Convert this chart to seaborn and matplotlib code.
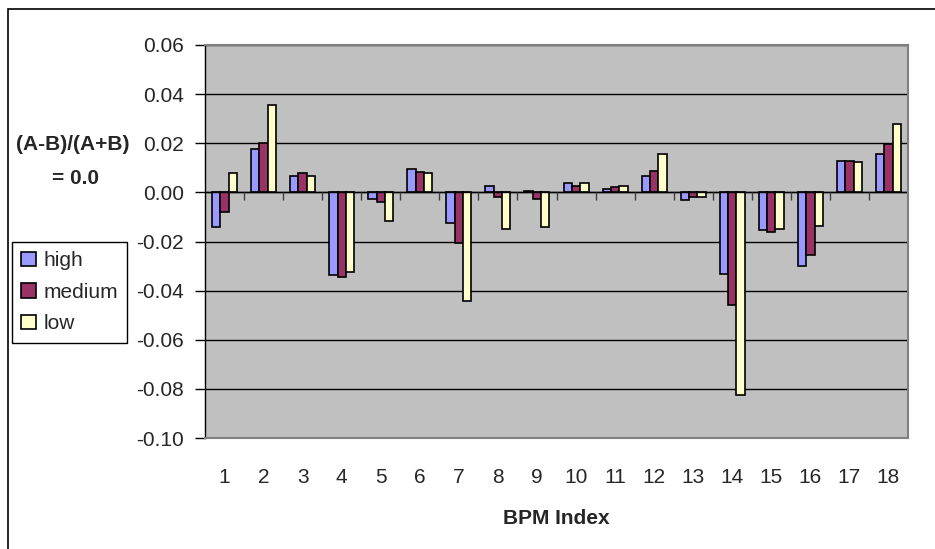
import seaborn as sns
import pandas as pd
import matplotlib.pyplot as plt
from matplotlib.patches import Rectangle

sns.set_theme(style="white")
plt.rcParams['font.family'] = ['Liberation Sans', 'DejaVu Sans']

bpm = [str(i) for i in range(1, 19)]
high = [-0.0143, 0.0176, 0.0065, -0.0338, -0.0027, 0.0097, -0.0123, 0.0027, 0.0007,
        0.0039, 0.0014, 0.0065, -0.0032, -0.0331, -0.0155, -0.0299, 0.0128, 0.0155]
medium = [-0.0078, 0.0201, 0.0078, -0.0345, -0.0039, 0.0084, -0.0208, -0.0019, -0.0027,
          0.0026, 0.0020, 0.0085, -0.0019, -0.0460, -0.0162, -0.0253, 0.0128, 0.0195]
low = [0.0078, 0.0357, 0.0066, -0.0326, -0.0118, 0.0078, -0.0442, -0.0150, -0.0143,
       0.0039, 0.0027, 0.0157, -0.0019, -0.0824, -0.0149, -0.0136, 0.0123, 0.0280]
series = ['high', 'medium', 'low']
colors = ['#9999FF', '#993366', '#FFFFCC']

df = pd.DataFrame({
    'BPM Index': bpm * 3,
    'value': high + medium + low,
    'series': [s for s in series for _ in bpm],
})

fs = 15
fig = plt.figure(figsize=(9.35, 5.49), dpi=100)
ax = fig.add_axes([205 / 935, 1 - 438 / 549, 703 / 935, 393 / 549])
ax.set_facecolor('#C0C0C0')

sns.barplot(data=df, x='BPM Index', y='value', hue='series', hue_order=series,
            palette=colors, width=0.64, edgecolor='black', linewidth=1.2,
            saturation=1, ax=ax)

ax.set_ylim(-0.10, 0.06)
ax.set_xlim(-0.5, 17.5)
ax.set_yticks([0.06, 0.04, 0.02, 0.00, -0.02, -0.04, -0.06, -0.08, -0.10])
ax.set_yticklabels(['%.2f' % v for v in ax.get_yticks()])
ax.yaxis.grid(True, color='black', linewidth=1)
ax.set_axisbelow(True)
ax.axhline(0, color='black', linewidth=1)
# category separator ticks on the zero line
ax.vlines([i + 0.5 for i in range(17)], -0.0033, 0, color='#404040', linewidth=1)

for side in ['top', 'right', 'bottom']:
    ax.spines[side].set_color('#808080')
    ax.spines[side].set_linewidth(1.5)
ax.spines['left'].set_color('black')
ax.spines['left'].set_linewidth(1)

ax.tick_params(axis='y', left=True, length=7, width=1, color='black', pad=8, labelsize=fs)
ax.tick_params(axis='x', bottom=False, pad=15.5, labelsize=fs)
ax.set_ylabel('')
ax.set_xlabel('BPM Index', fontsize=fs, fontweight='bold', labelpad=16)

fig.text(73 / 935, 1 - 144 / 549, '(A-B)/(A+B)', ha='center', va='center',
         fontsize=fs, fontweight='bold')
fig.text(75 / 935, 1 - 178 / 549, '= 0.0', ha='center', va='center',
         fontsize=fs, fontweight='bold')

handles, labels = ax.get_legend_handles_labels()
ax.legend(handles, labels, loc='upper left',
          bbox_to_anchor=(12 / 935, 1 - 242 / 549), bbox_transform=fig.transFigure,
          frameon=True, fancybox=False, framealpha=1, edgecolor='black',
          fontsize=fs, handlelength=0.7, handleheight=0.7, handletextpad=0.35,
          borderpad=0.45, labelspacing=0.6, borderaxespad=0)
ax.get_legend().get_frame().set_linewidth(1)

fig.patches.append(Rectangle((8 / 935, -0.1), 1.2, 1 - 9 / 549 + 0.1,
                             transform=fig.transFigure, fill=False,
                             edgecolor='black', linewidth=1.2))

fig.savefig('out.png', dpi=100)
